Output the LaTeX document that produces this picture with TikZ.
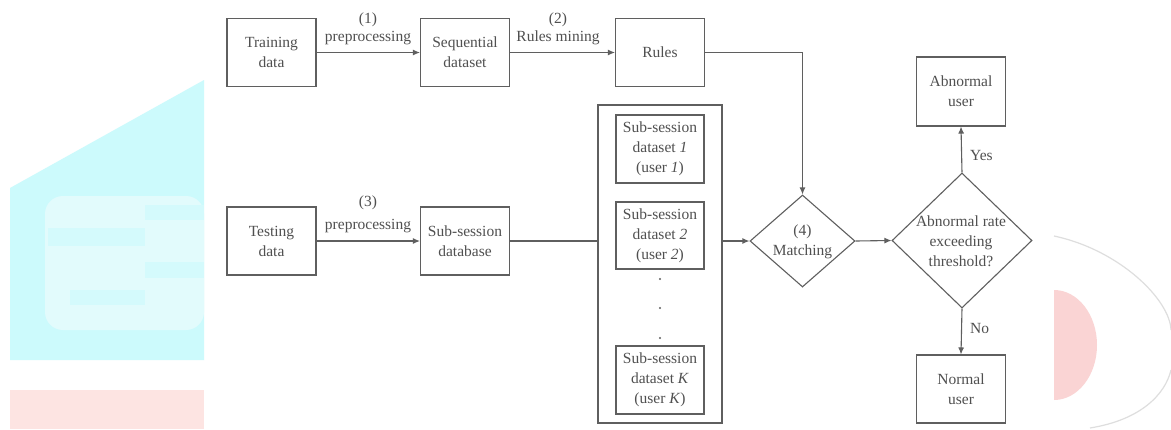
\documentclass[tikz,border=0pt]{standalone}
\usepackage{fontspec}
\setmainfont{Liberation Serif}
\newfontfamily\tms{Liberation Serif}
\usetikzlibrary{shapes.geometric,arrows.meta}
\definecolor{ln}{RGB}{95,95,95}
\definecolor{tx}{RGB}{80,80,80}
\definecolor{wmcyan}{RGB}{204,250,252}
\definecolor{wmcyanl}{RGB}{226,251,252}
\definecolor{wmcyanm}{RGB}{212,250,252}
\definecolor{wmpink}{RGB}{253,228,226}
\definecolor{wmpinkd}{RGB}{250,212,212}
\definecolor{wmgray}{RGB}{222,222,222}
\begin{document}
\begin{tikzpicture}[x=1pt,y=-1pt,
  txt/.style={text=tx,font=\tms\fontsize{15.5}{20}\selectfont},
  box/.style={txt,draw=ln,line width=1.1pt,minimum width=89pt,minimum height=68pt,inner sep=0pt,align=center},
  dia/.style={draw=ln,line width=1.1pt,diamond,inner sep=0pt},
  lab/.style={txt,inner sep=0pt,align=center},
  conn/.style={draw=ln,line width=1.1pt},
  arr/.style={conn,-{Latex[length=7pt,width=6pt]}},
  dot/.style={circle,fill=ln,inner sep=0pt,minimum size=2.2pt}]
\useasboundingbox (0,0) rectangle (1171,429);
\fill[white] (0,0) rectangle (1171,429);
% watermark background
\fill[wmcyan] (10,188) -- (204,80) -- (204,360) -- (10,360) -- cycle;
\fill[wmcyanl,rounded corners=18pt] (45,196) rectangle (204,330);
\fill[wmcyanm] (48,228) rectangle (145,246);
\fill[wmcyanm] (145,205) rectangle (204,220);
\fill[wmcyanm] (145,262) rectangle (204,278);
\fill[wmcyanm] (70,290) rectangle (145,305);
\fill[wmpink] (10,390) rectangle (204,429);
\begin{scope}
\clip (1054,0) rectangle (1171,429);
\fill[wmpinkd] (1054,345) ellipse [x radius=43, y radius=55];
\end{scope}
\draw[wmgray,line width=1.2pt] (1054,236) .. controls (1120,250) and (1170,300) .. (1171,330);
\draw[wmgray,line width=1.2pt] (1090,428) .. controls (1140,420) and (1165,395) .. (1171,370);

% nodes
\node[box] (train) at (271.5,52.5) {Training\\data};
\node[box] (seq) at (465,52.5) {Sequential\\dataset};
\node[box] (rules) at (660,52.5) {Rules};
\node[box] (test) at (271.5,241) {Testing\\data};
\node[box] (db) at (465,241) {Sub-session\\database};
\node[draw=ln,line width=1.1pt,minimum width=124pt,minimum height=318pt,inner sep=0pt] (cont) at (660,264) {};
\node[box,minimum width=88pt] (s1) at (660,149) {Sub-session\\dataset \textit{1}\\(user \textit{1})};
\node[box,minimum width=88pt,minimum height=67pt] (s2) at (660,235.5) {Sub-session\\dataset \textit{2}\\(user \textit{2})};
\node[box,minimum width=88pt] (sk) at (660,380) {Sub-session\\dataset \textit{K}\\(user \textit{K})};
\node[dot] (d1) at (660,279) {};
\node[dot] (d2) at (660,308) {};
\node[dot] (d3) at (660,338) {};
\node[dia,minimum width=105pt,minimum height=92pt] (match) at (802.5,241) {};
\node[lab] (matcht) at (802.5,242) {(4)\\Matching};
\node[dia,minimum width=140pt,minimum height=135pt] (dec) at (962,240.5) {};
\node[lab] (dect) at (961,241) {Abnormal rate\\exceeding\\threshold?};
\node[box,minimum height=69pt] (abn) at (961,91.5) {Abnormal\\user};
\node[box] (norm) at (961,389) {Normal\\user};

% labels
\node[lab] (l1a) at (368,20) {(1)};
\node[lab] (l1b) at (368,38) {preprocessing};
\node[lab] (l2a) at (558,20) {(2)};
\node[lab] (l2b) at (558,38) {Rules mining};
\node[lab] (l3a) at (368,203) {(3)};
\node[lab] (l3b) at (368,226) {preprocessing};
\node[lab,anchor=west] (yes) at (970,155) {Yes};
\node[lab,anchor=west] (no) at (970,328) {No};

% connectors
\draw[arr] (train) -- (seq);
\draw[arr] (seq) -- (rules);
\draw[arr] (test) -- (db);
\draw[conn] (db) -- (db -| cont.west);
\draw[arr] (rules.east) -| (match.north);
\draw[arr] (cont.east |- match) -- (match.west);
\draw[arr] (match.east) -- (dec.west);
\draw[arr] (dec.north) -- (abn.south);
\draw[arr] (dec.south) -- (norm.north);
\end{tikzpicture}
\end{document}
